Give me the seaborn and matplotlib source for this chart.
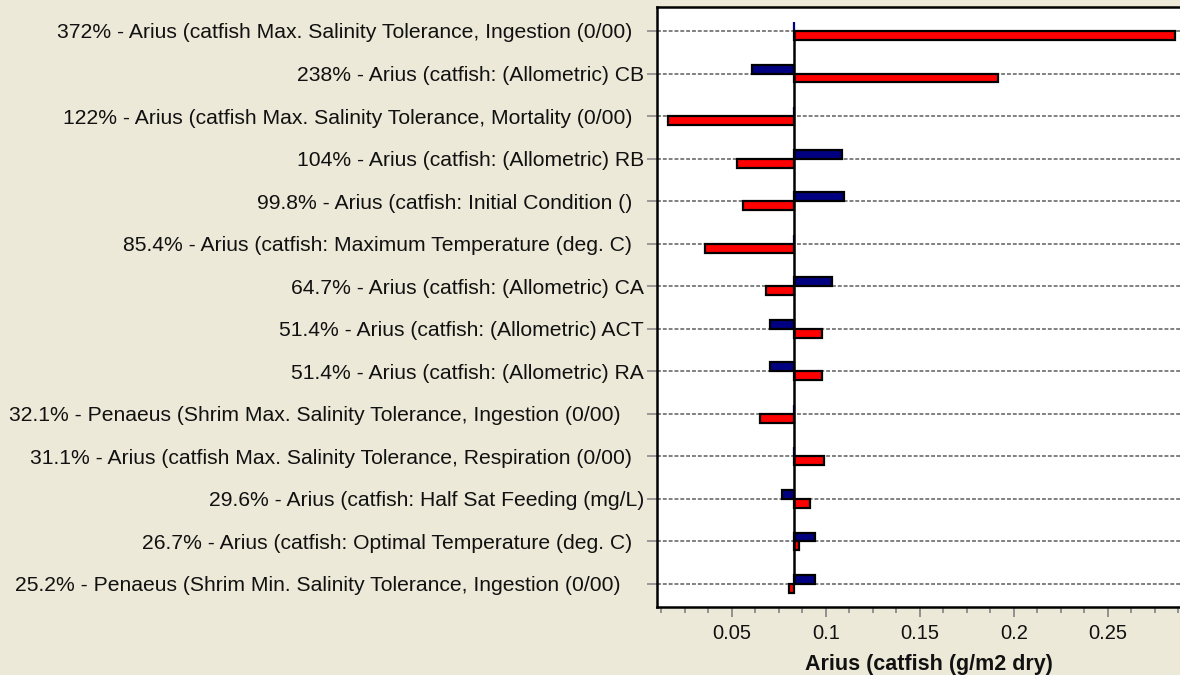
import matplotlib
matplotlib.use("Agg")
import matplotlib.pyplot as plt
from matplotlib.ticker import MultipleLocator
import seaborn as sns
import pandas as pd

# ---- data ----
labels = [
    "372% - Arius (catfish Max. Salinity Tolerance, Ingestion (0/00)  ",
    "238% - Arius (catfish: (Allometric) CB",
    "122% - Arius (catfish Max. Salinity Tolerance, Mortality (0/00)  ",
    "104% - Arius (catfish: (Allometric) RB",
    "99.8% - Arius (catfish: Initial Condition ()  ",
    "85.4% - Arius (catfish: Maximum Temperature (deg. C)  ",
    "64.7% - Arius (catfish: (Allometric) CA",
    "51.4% - Arius (catfish: (Allometric) ACT",
    "51.4% - Arius (catfish: (Allometric) RA",
    "32.1% - Penaeus (Shrim Max. Salinity Tolerance, Ingestion (0/00)    ",
    "31.1% - Arius (catfish Max. Salinity Tolerance, Respiration (0/00)  ",
    "29.6% - Arius (catfish: Half Sat Feeding (mg/L)",
    "26.7% - Arius (catfish: Optimal Temperature (deg. C)  ",
    "25.2% - Penaeus (Shrim Min. Salinity Tolerance, Ingestion (0/00)    ",
]
baseline = 0.0832
low_values = [0.0832, 0.0610, 0.0832, 0.1089, 0.1099, 0.0832, 0.1035,
              0.0706, 0.0706, 0.0832, 0.0832, 0.0769, 0.0941, 0.0941]
high_values = [0.2856, 0.1914, 0.0159, 0.0528, 0.0558, 0.0360, 0.0684,
               0.0982, 0.0982, 0.0653, 0.0993, 0.0918, 0.0857, 0.0807]
series_names = ["Low", "High"]
series_colors = {"Low": "#000080", "High": "#FF0000"}
x_ticks = [0.05, 0.1, 0.15, 0.2, 0.25]
x_tick_labels = ["0.05", "0.1", "0.15", "0.2", "0.25"]
x_label = "Arius (catfish (g/m2 dry)"

df = pd.DataFrame({
    "label": labels * 2,
    "series": [series_names[0]] * len(labels) + [series_names[1]] * len(labels),
    "value": low_values + high_values,
})
df["delta"] = df["value"] - baseline

sns.set_theme(style="white")
plt.rcParams["font.family"] = ["Liberation Sans", "DejaVu Sans"]

bg = "#ECE9D8"
fig = plt.figure(figsize=(11.8, 6.75), dpi=100, facecolor=bg)
ax = fig.add_axes([656.5 / 1180, 1 - 607.3 / 675, (1201.7 - 656.5) / 1180, (607.3 - 7.3) / 675])
ax.set_facecolor("white")

sns.barplot(data=df, y="label", x="delta", hue="series", hue_order=series_names,
            palette=series_colors, orient="h", order=labels, width=0.42,
            dodge=True, edgecolor="black", linewidth=1.6, errorbar=None,
            legend=False, saturation=1, ax=ax, zorder=3)

# bars grow from the baseline value; zero-length bars show only their own colour
for p in ax.patches:
    p.set_x(p.get_x() + baseline)
    if abs(p.get_width()) < 1e-9:
        p.set_edgecolor(p.get_facecolor())

n = len(labels)
ax.vlines(baseline, 0, n - 1, color="black", linewidth=1.8, zorder=4)

ax.set_xlim(0.01, 0.30)
ax.set_ylim(n - 1 + 0.548, -0.557)

ax.grid(axis="y", color="#808080", linestyle=(0, (2.0, 1.0)), linewidth=1.4, zorder=0)
ax.grid(axis="x", visible=False)
ax.set_axisbelow(True)

ax.xaxis.set_minor_locator(MultipleLocator(0.0125))
ax.set_xticks(x_ticks)
ax.set_xticklabels(x_tick_labels)
ax.tick_params(axis="x", which="major", direction="out", length=7.5, width=1.3,
               color="#8a8a8a", labelsize=14.5, pad=4.5, bottom=True, labelcolor="#111111")
ax.tick_params(axis="x", which="minor", direction="out", length=4.5, width=1.3,
               color="#8a8a8a", bottom=True)
ax.tick_params(axis="y", which="major", direction="out", length=7.5, width=1.2,
               color="#8a8a8a", labelsize=15.2, pad=1.5, left=True, labelcolor="#111111")

ax.set_ylabel("")
ax.set_xlabel(x_label, fontsize=15.5, fontweight="bold", labelpad=8, color="#111111")

for side in ["left", "bottom", "top", "right"]:
    ax.spines[side].set_visible(True)
    ax.spines[side].set_color("black")
    ax.spines[side].set_linewidth(1.8)

fig.savefig("out.png", dpi=100, facecolor=bg)
